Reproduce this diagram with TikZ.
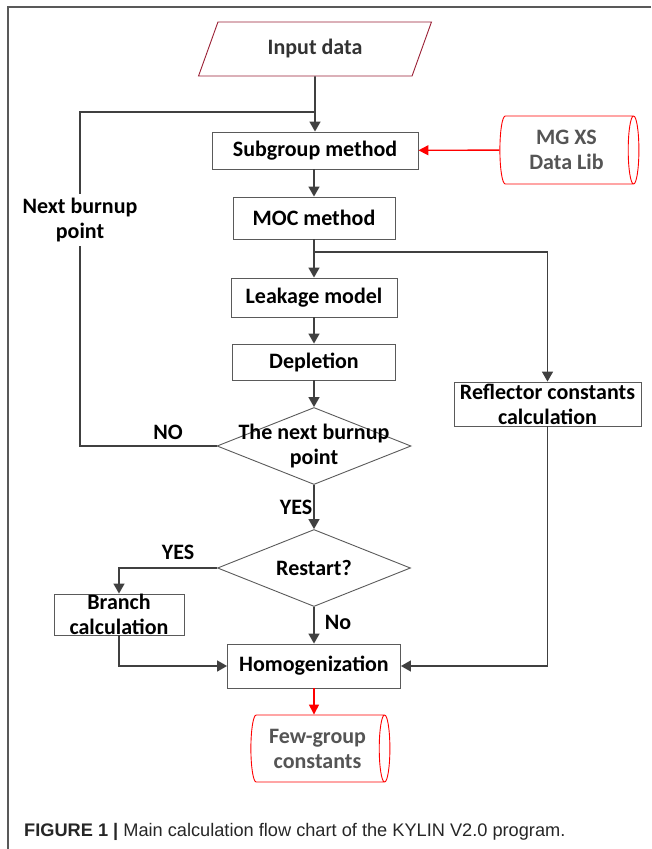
\documentclass[tikz,border=0pt]{standalone}
\usepackage{fontspec}
\setmainfont{Carlito}
\newfontfamily\capfont{Liberation Sans}
\usetikzlibrary{shapes.geometric,arrows.meta}
\definecolor{linegray}{HTML}{404040}
\definecolor{boxgray}{HTML}{5A5A5A}
\definecolor{inred}{HTML}{9A2035}
\definecolor{libred}{HTML}{FF0000}
\definecolor{txtgray}{HTML}{555555}

\begin{document}
\begin{tikzpicture}[x=1pt,y=-1pt,
    font=\fontsize{22}{25}\selectfont\bfseries,
    box/.style={draw=boxgray,line width=0.9pt,fill=white,inner sep=0pt,align=center},
    decision/.style={diamond,draw=boxgray,line width=0.9pt,inner sep=0pt},
    store/.style={cylinder,draw=libred,line width=0.9pt,fill=white,aspect=0.27,
      text=txtgray,align=center,inner sep=0pt},
    flow/.style={draw=linegray,line width=1.6pt,-{Triangle[length=10pt,width=11pt]}},
    link/.style={draw=linegray,line width=1.6pt},
    redflow/.style={draw=libred,line width=1.4pt,-{Triangle[length=10pt,width=10pt]}}]
  \useasboundingbox (0,0) rectangle (651,849);
  \draw[gray!70!black,line width=1.2pt] (651,7) -- (8,7) -- (8,849);
  % main column
  \node[trapezium,trapezium left angle=63.4,trapezium right angle=116.6,
    trapezium stretches=true,draw=inred,line width=0.9pt,inner sep=0pt,
    minimum width=233,minimum height=54,text=black!80] (input) at (315,49) {Input data};
  \node[box,minimum width=206,minimum height=37] (sub) at (315,150.5) {Subgroup method};
  \node[box,minimum width=162,minimum height=42] (moc) at (314,218) {MOC method};
  \node[box,minimum width=166,minimum height=39] (leak) at (314,297.5) {Leakage model};
  \node[box,minimum width=163,minimum height=36] (depl) at (314,362) {Depletion};
  \node[decision,minimum width=194,minimum height=77] (burn) at (314,446) {};
  \node[align=center] (burntxt) at (burn) {The next burnup\\point};
  \node[decision,minimum width=193,minimum height=77] (restart) at (314,568) {};
  \node (restxt) at (restart) {Restart?};
  \node[box,minimum width=173,minimum height=44] (homog) at (314,666) {Homogenization};
  \node[store,minimum width=67,minimum height=139] (few) at (317.5,748.5) {Few-group\\constants};
  % side nodes
  \node[store,minimum width=68,minimum height=139] (mgxs) at (566.5,150) {MG XS\\Data Lib};
  \node[box,minimum width=187,minimum height=44] (refl) at (547.5,404) {Reflector constants\\calculation};
  \node[box,minimum width=130,minimum height=41] (branch) at (119,614.5) {Branch\\calculation};
  \node[fill=white,align=center,inner sep=4pt] (nextlbl) at (80,220) {Next burnup\\point};
  % labels
  \node (no1) at (168,432) {NO};
  \node (yes1) at (296,507) {YES};
  \node (yes2) at (178,552) {YES};
  \node (no2) at (338,622) {No};
  \coordinate (join) at (315,112);
  \coordinate (split) at (314,252);
  % connectors
  \draw[flow] (input) -- (sub);
  \draw[redflow] (mgxs) -- (sub);
  \draw[flow] (sub.south -| moc) -- (moc);
  \draw[flow] (moc) -- (leak);
  \draw[flow] (split) -| (refl);
  \draw[flow] (leak) -- (depl);
  \draw[flow] (depl) -- (burn);
  \draw[link] (burn.west) -| (nextlbl) |- (join);
  \draw[flow] (burn) -- (restart);
  \draw[flow] (restart) -| (branch);
  \draw[flow] (restart) -- (homog);
  \draw[flow] (branch) |- (homog);
  \draw[flow] (refl) |- (homog);
  \draw[redflow] (homog.south) -- (homog.south |- few.north);
  \node[anchor=base west,inner sep=0pt,text=black!85,
    font=\capfont\fontsize{18.2}{22}\selectfont] (caption) at (24,836)
    {\textbf{FIGURE 1 |} Main calculation flow chart of the KYLIN V2.0 program.};
\end{tikzpicture}
\end{document}
